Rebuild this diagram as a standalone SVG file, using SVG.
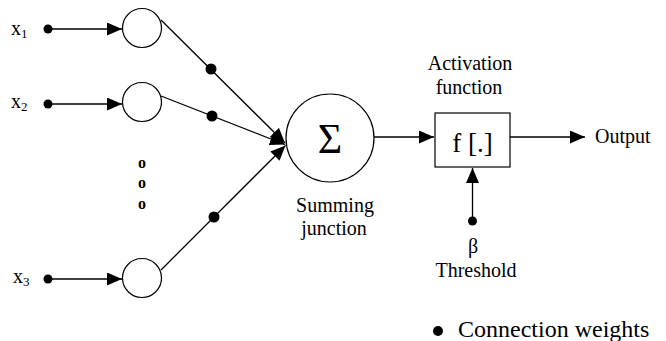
<svg xmlns="http://www.w3.org/2000/svg" width="666" height="341" viewBox="0 0 666 341">
<defs>
<style>
text{font-family:"Liberation Serif","Times New Roman",serif;fill:#000;}
.lbl{font-size:20px;}
.sub{font-size:13px;}
.ln{stroke:#000;stroke-width:1.3;fill:none;}
.node{fill:#fff;stroke:#000;stroke-width:1.2;}
.dot{fill:#000;}
</style>
<marker id="arr" viewBox="0 0 15 13" markerWidth="15" markerHeight="13" refX="15" refY="6.5" orient="auto" markerUnits="userSpaceOnUse">
<path d="M0,0 L15,6.5 L0,13 z" fill="#000"/>
</marker>
</defs>
<rect width="666" height="341" fill="#fff"/>
<g id="connectors">
<line class="ln" x1="48" y1="29" x2="122" y2="29" marker-end="url(#arr)"/>
<line class="ln" x1="48" y1="104" x2="122" y2="104" marker-end="url(#arr)"/>
<line class="ln" x1="48" y1="279" x2="122" y2="279" marker-end="url(#arr)"/>
<line class="ln" x1="161" y1="20" x2="285" y2="143" marker-end="url(#arr)"/>
<line class="ln" x1="161" y1="96" x2="285" y2="144.5" marker-end="url(#arr)"/>
<line class="ln" x1="161" y1="270" x2="285.5" y2="145.5" marker-end="url(#arr)"/>
<line class="ln" x1="374" y1="137" x2="434" y2="137" marker-end="url(#arr)"/>
<line class="ln" x1="510" y1="137" x2="585" y2="137" marker-end="url(#arr)"/>
<line class="ln" x1="472.5" y1="221" x2="472.5" y2="168" marker-end="url(#arr)"/>
<circle class="dot" cx="48" cy="29" r="4.5"/>
<circle class="dot" cx="48" cy="104" r="4.5"/>
<circle class="dot" cx="48" cy="279" r="4.5"/>
<circle class="dot" cx="211" cy="69" r="5.5"/>
<circle class="dot" cx="212" cy="116" r="5.5"/>
<circle class="dot" cx="214" cy="217" r="5.5"/>
<circle class="dot" cx="472.5" cy="221" r="4.5"/>
</g>
<g id="in1">
<text class="lbl" x="11" y="35">x<tspan class="sub" dy="3">1</tspan></text>
<circle class="node" cx="142" cy="28" r="19.5"/>
</g>
<g id="in2">
<text class="lbl" x="11" y="108">x<tspan class="sub" dy="3">2</tspan></text>
<circle class="node" cx="142" cy="102" r="19.5"/>
</g>
<g id="dots">
<text x="142" y="168" font-size="16" font-weight="bold" text-anchor="middle">o</text>
<text x="142" y="188" font-size="16" font-weight="bold" text-anchor="middle">o</text>
<text x="142" y="209" font-size="16" font-weight="bold" text-anchor="middle">o</text>
</g>
<g id="in3">
<text class="lbl" x="13" y="283">x<tspan class="sub" dy="3">3</tspan></text>
<circle class="node" cx="142" cy="278" r="19.5"/>
</g>
<g id="sum">
<circle class="node" cx="330" cy="138" r="44"/>
<text x="330" y="153" font-size="42" text-anchor="middle">Σ</text>
<text class="lbl" x="335" y="212" text-anchor="middle">Summing</text>
<text class="lbl" x="334" y="235" text-anchor="middle">junction</text>
</g>
<g id="activation">
<text class="lbl" x="470" y="70" text-anchor="middle">Activation</text>
<text class="lbl" x="469" y="94" text-anchor="middle">function</text>
<rect class="node" x="435" y="113" width="75" height="54"/>
<text x="472.5" y="152" font-size="27" text-anchor="middle">f [.]</text>
</g>
<g id="threshold">
<text class="lbl" x="473" y="253" text-anchor="middle">β</text>
<text class="lbl" x="476" y="277" text-anchor="middle">Threshold</text>
</g>
<g id="output">
<text class="lbl" x="595" y="143">Output</text>
</g>
<g id="legend">
<circle class="dot" cx="438" cy="331" r="5"/>
<text x="458" y="337" font-size="24">Connection weights</text>
</g>
</svg>
